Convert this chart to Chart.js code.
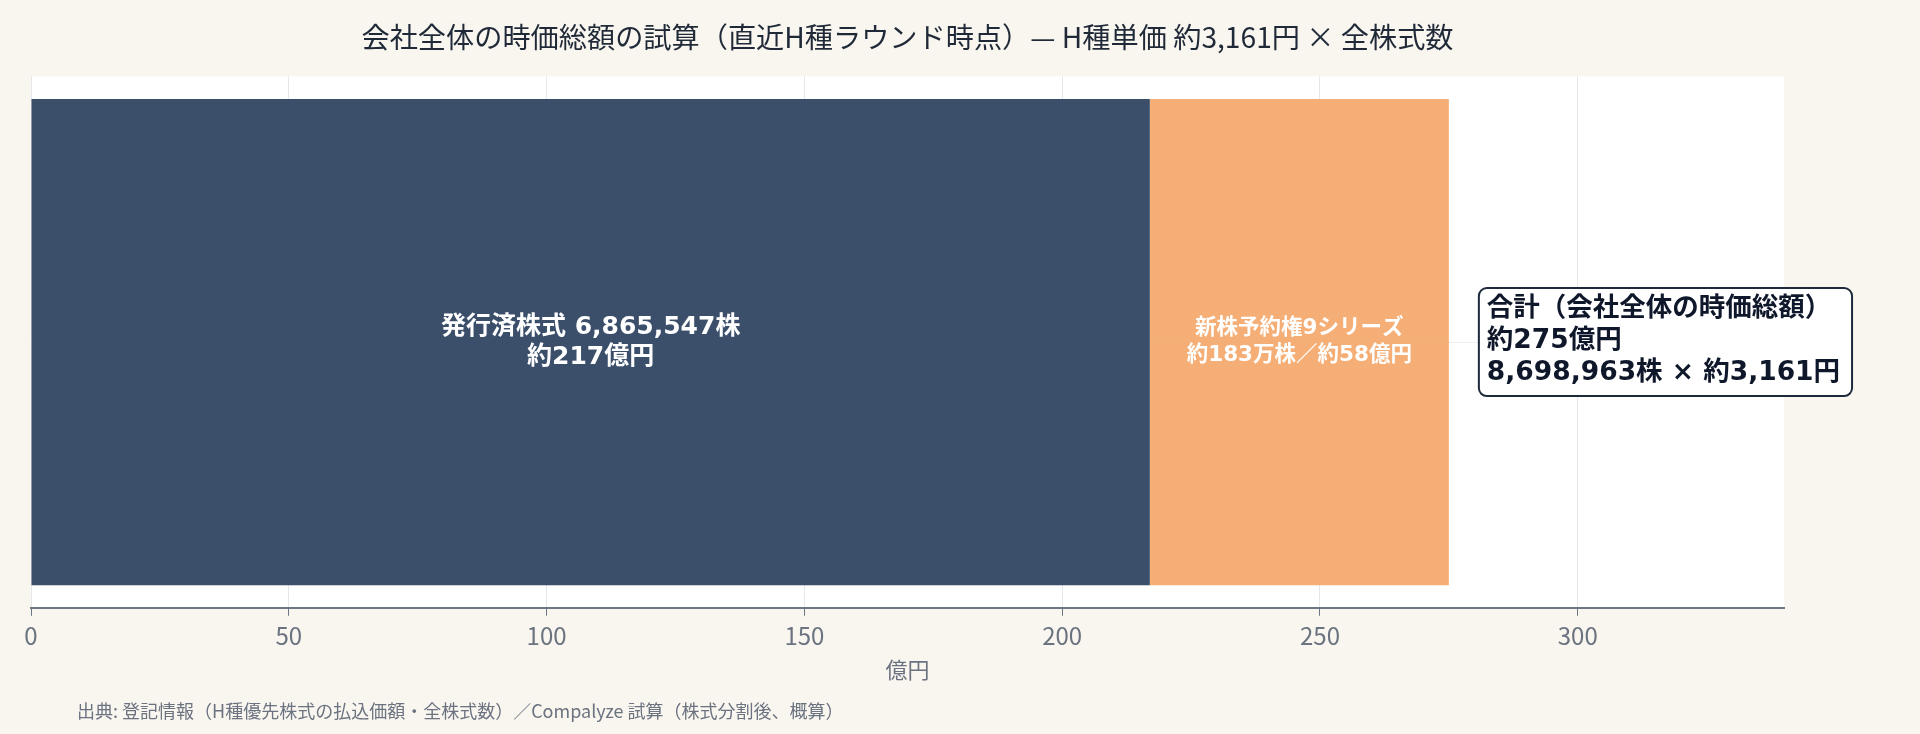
<!DOCTYPE html>
<html lang="ja">
<head>
<meta charset="utf-8">
<title>会社全体の時価総額の試算</title>
<script src="https://cdn.jsdelivr.net/npm/chart.js@4.4.1/dist/chart.umd.min.js"></script>
<style>
  html, body { margin: 0; padding: 0; background: #f9f6ef; }
  canvas { display: block; }
</style>
</head>
<body>
<canvas id="marketCapChart" width="1920" height="734"></canvas>
<script>
// data (億円)
const categories = ['会社全体'];
const seriesNames = ['発行済株式', '新株予約権9シリーズ'];
const issuedValues = [217];
const optionValues = [58];
const totalValues = [275];
const xTickStep = 50;
const xMax = 340;

const issuedLabel = ['発行済株式 6,865,547株', '約217億円'];
const optionLabel = ['新株予約権9シリーズ', '約183万株／約58億円'];
const totalLabel = ['合計（会社全体の時価総額）', '約275億円', '8,698,963株 × 約3,161円'];
const titleText = '会社全体の時価総額の試算（直近H種ラウンド時点）— H種単価 約3,161円 × 全株式数';
const footerText = '出典: 登記情報（H種優先株式の払込価額・全株式数）／Compalyze 試算（株式分割後、概算）';

const FONT = "'Noto Sans CJK JP', 'Noto Sans', sans-serif";
const BOLD_FONT = "'DejaVu Sans', 'Noto Sans CJK JP', sans-serif";

// white plot background
const plotBg = {
    id: 'plotBg',
    beforeDraw(chart) {
        const a = chart.chartArea
        const ctx = chart.ctx
        ctx.save()
        ctx.fillStyle = '#ffffff'
        ctx.fillRect(a.left, a.top, a.right - a.left, a.bottom - a.top)
        ctx.restore()
    }
}

function drawLines(ctx, lines, x, y, gap) {
    const start = y - (lines.length - 1) * gap / 2
    lines.forEach(function (t, i) {
        ctx.fillText(t, x, start + i * gap)
    })
}

// labels inside the bars
const barLabels = {
    id: 'barLabels',
    afterDatasetsDraw(chart) {
        const ctx = chart.ctx
        const specs = [
            { lines: issuedLabel, font: 'bold 25px ' + BOLD_FONT, gap: 30 },
            { lines: optionLabel, font: 'bold 21.5px ' + BOLD_FONT, gap: 27 }
        ]
        ctx.save()
        ctx.fillStyle = '#ffffff'
        ctx.textAlign = 'center'
        ctx.textBaseline = 'middle'
        specs.forEach(function (s, i) {
            const bar = chart.getDatasetMeta(i).data[0]
            if (!bar) return
            ctx.font = s.font
            drawLines(ctx, s.lines, (bar.x + bar.base) / 2, bar.y, s.gap)
        })
        ctx.restore()
    }
}

// total box to the right of the stack
const totalBox = {
    id: 'totalBox',
    afterDraw(chart) {
        const ctx = chart.ctx
        const xs = chart.scales.x
        const bar = chart.getDatasetMeta(1).data[0]
        const left = xs.getPixelForValue(totalValues[0]) + 30
        const gap = 32
        ctx.save()
        ctx.font = 'bold 26.5px ' + BOLD_FONT
        let w = 0
        totalLabel.forEach(function (t) { w = Math.max(w, ctx.measureText(t).width) })
        const boxW = w + 20
        const boxH = totalLabel.length * gap + 12
        const top = bar.y - boxH / 2
        ctx.beginPath()
        ctx.roundRect(left, top, boxW, boxH, 8)
        ctx.fillStyle = '#ffffff'
        ctx.fill()
        ctx.lineWidth = 2
        ctx.strokeStyle = '#1e293b'
        ctx.stroke()
        ctx.fillStyle = '#0f172a'
        ctx.textAlign = 'left'
        ctx.textBaseline = 'middle'
        totalLabel.forEach(function (t, i) {
            ctx.fillText(t, left + 8, top + 21 + i * gap)
        })
        ctx.restore()
    }
}

// source note
const footer = {
    id: 'footer',
    afterDraw(chart) {
        const ctx = chart.ctx
        ctx.save()
        ctx.font = '18px ' + FONT
        ctx.fillStyle = '#6b7280'
        ctx.textAlign = 'left'
        ctx.textBaseline = 'middle'
        ctx.fillText(footerText, 77, 711)
        ctx.restore()
    }
}

const ctx = document.getElementById('marketCapChart')
const chart = new Chart(ctx, {
    type: 'bar',
    data: {
        labels: categories,
        datasets: [{
            label: seriesNames[0],
            data: issuedValues,
            backgroundColor: 'rgba(48, 70, 99, 0.95)',
            borderWidth: 0
        }, {
            label: seriesNames[1],
            data: optionValues,
            backgroundColor: 'rgba(243, 170, 111, 0.95)',
            borderWidth: 0
        }]
    },
    options: {
        indexAxis: 'y',
        responsive: false,
        animation: false,
        barPercentage: 0.915,
        categoryPercentage: 1,
        layout: { padding: { left: 31, right: 136, top: 0, bottom: 47 } },
        scales: {
            x: {
                stacked: true,
                min: 0,
                max: xMax,
                grid: { color: '#e5e7eb', tickColor: '#6b7785', tickLength: 8 },
                border: { color: '#6b7785', width: 2 },
                ticks: {
                    stepSize: xTickStep,
                    includeBounds: false,
                    padding: 6,
                    color: '#6b7280',
                    font: { family: FONT, size: 24 }
                },
                title: {
                    display: true,
                    text: '億円',
                    color: '#6b7280',
                    font: { family: FONT, size: 22 },
                    padding: { top: 0, bottom: 4 }
                }
            },
            y: {
                stacked: true,
                grid: { color: '#eceef1', offset: false, drawTicks: false },
                border: { display: false },
                ticks: { display: false }
            }
        },
        plugins: {
            legend: { display: false },
            tooltip: { enabled: false },
            title: {
                display: true,
                text: titleText,
                fullSize: false,
                color: '#1f2937',
                font: { family: FONT, size: 28.2, weight: 'normal' },
                padding: { top: 20, bottom: 22.5 }
            }
        }
    },
    plugins: [plotBg, barLabels, totalBox, footer]
})
</script>
</body>
</html>
